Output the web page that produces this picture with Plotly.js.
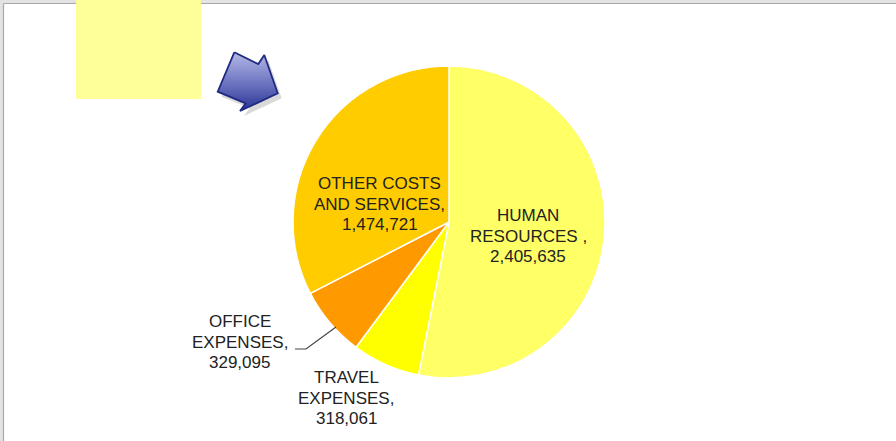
<!DOCTYPE html>
<html>
<head>
<meta charset="utf-8">
<script src="https://cdn.plot.ly/plotly-3.0.1.min.js"></script>
<style>
  html, body { margin: 0; padding: 0; background: #ffffff; }
  #chart { width: 896px; height: 441px; }
</style>
</head>
<body>
<div id="chart"></div>
<script>
// ---- data ----
const categories = ['HUMAN RESOURCES', 'TRAVEL EXPENSES', 'OFFICE EXPENSES', 'OTHER COSTS AND SERVICES'];
const values = [2405635, 318061, 329095, 1474721];
const labelLines = [
  ['HUMAN', 'RESOURCES ,'],
  ['TRAVEL', 'EXPENSES,'],
  ['OFFICE', 'EXPENSES,'],
  ['OTHER COSTS', 'AND SERVICES,']
];

// ---- styles / positions ----
const sliceColors = ['#FFFF66', '#FFFF00', '#FF9900', '#FFCC00'];
const W = 896, H = 441;
const cx = 449, cy = 222, R = 156;
// label block centre x and first line centre y (pixels)
const labelPos = [
  [528, 215.5],
  [346, 377.5],
  [239.5, 321.5],
  [379.5, 183.5]
];
const lineGap = 20.6;
const fontSize = 17;

const pieTrace = {
  type: 'pie',
  labels: categories,
  values: values,
  sort: false,
  direction: 'clockwise',
  rotation: 0,
  textinfo: 'none',
  hoverinfo: 'skip',
  showlegend: false,
  marker: { colors: sliceColors, line: { color: '#ffffff', width: 1.5 } },
  domain: {
    x: [(cx - R) / W, (cx + R) / W],
    y: [(H - cy - R) / H, (H - cy + R) / H]
  }
};

// decorative arrow (pixel coordinates)
const arrowX = [234.3, 258.3, 264.3, 277.7, 240, 245.7, 217.7, 234.3];
const arrowY = [52.3, 64, 55, 93.3, 111, 103.3, 91.7, 52.3];
const shadowTrace = {
  type: 'scatter', mode: 'lines',
  x: arrowX.map(v => v + 4), y: arrowY.map(v => v + 5),
  fill: 'toself', fillcolor: 'rgba(0,0,0,0.15)',
  line: { width: 0, color: 'rgba(0,0,0,0)' },
  hoverinfo: 'skip', showlegend: false
};
const arrowTrace = {
  type: 'scatter', mode: 'lines',
  x: arrowX, y: arrowY,
  fill: 'toself', fillcolor: '#5a63b8',
  fillgradient: {
    type: 'vertical',
    colorscale: [[0, '#283290'], [0.45, '#6a72c0'], [1, '#b4b9e6']]
  },
  line: { width: 1.8, color: '#1f2a82' },
  hoverinfo: 'skip', showlegend: false
};

const annotations = [];
values.forEach((v, i) => {
  const lines = labelLines[i].concat([v.toLocaleString('en-US')]);
  lines.forEach((t, k) => {
    annotations.push({
      xref: 'x', yref: 'y',
      x: labelPos[i][0], y: labelPos[i][1] + k * lineGap,
      text: t, showarrow: false,
      xanchor: 'center', yanchor: 'middle',
      font: { family: 'Liberation Sans, Arial, sans-serif', size: fontSize, color: '#222222' }
    });
  });
});

const shapes = [
  // window frame
  { type: 'rect', xref: 'x', yref: 'y', x0: 0, x1: W, y0: 0, y1: 3, fillcolor: '#e3e3e3', line: { width: 0 }, layer: 'below' },
  { type: 'rect', xref: 'x', yref: 'y', x0: 0, x1: 3, y0: 0, y1: H, fillcolor: '#e3e3e3', line: { width: 0 }, layer: 'below' },
  { type: 'line', xref: 'x', yref: 'y', x0: 3.5, x1: W, y0: 3.5, y1: 3.5, line: { color: '#a8a8a8', width: 1.2 }, layer: 'below' },
  { type: 'line', xref: 'x', yref: 'y', x0: 3.5, x1: 3.5, y0: 3.5, y1: H, line: { color: '#a8a8a8', width: 1.2 }, layer: 'below' },
  // yellow note box
  { type: 'rect', xref: 'x', yref: 'y', x0: 76, x1: 201, y0: 0, y1: 99, fillcolor: '#FFFF99', line: { width: 0 }, layer: 'below' },
  // leader line for office expenses
  { type: 'path', xref: 'x', yref: 'y', path: 'M 295,349 L 306,349 L 336,327', line: { color: '#444444', width: 1.2 }, layer: 'above' }
];

const layout = {
  width: W, height: H,
  margin: { l: 0, r: 0, t: 0, b: 0 },
  paper_bgcolor: '#ffffff', plot_bgcolor: 'rgba(0,0,0,0)',
  xaxis: { range: [0, W], visible: false, fixedrange: true, domain: [0, 1] },
  yaxis: { range: [H, 0], visible: false, fixedrange: true, domain: [0, 1] },
  showlegend: false,
  shapes: shapes,
  annotations: annotations
};

Plotly.newPlot('chart', [shadowTrace, arrowTrace, pieTrace], layout, { displayModeBar: false, staticPlot: true });
</script>
</body>
</html>
